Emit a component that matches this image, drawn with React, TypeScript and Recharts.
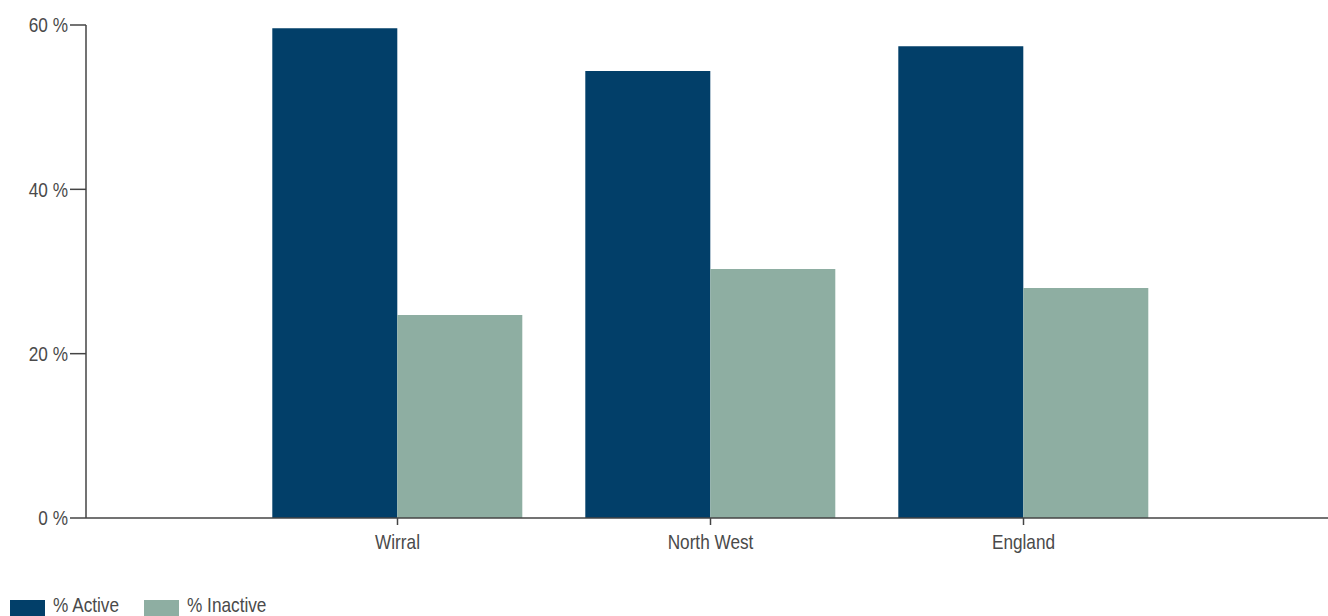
import React from 'react';
import { BarChart, Bar, XAxis, YAxis, Legend } from 'recharts';

const categories = ['Wirral', 'North West', 'England'];
const activeValues = [59.6, 54.4, 57.4];
const inactiveValues = [24.7, 30.3, 28.0];
const yTicks = [0, 20, 40, 60];
const seriesNames = ['% Active', '% Inactive'];
const seriesColors = ['#023f69', '#8eaea2'];

const data = categories.map((name, i) => ({
  name,
  active: activeValues[i],
  inactive: inactiveValues[i],
}));

const FONT = '"Liberation Sans", Arial, sans-serif';
const FONT_SIZE = 21;
const SQUEEZE = 0.82;
const TEXT = '#4a4a4a';
const AXIS = '#444444';

const YTick = (props: any) => {
  const { x, y, payload } = props;
  return (
    <g transform={`translate(${x},${y})`}>
      <text
        transform={`scale(${SQUEEZE},1)`}
        textAnchor="end"
        dy="0.355em"
        fontFamily={FONT}
        fontSize={FONT_SIZE}
        fill={TEXT}
      >
        {`${payload.value} %`}
      </text>
    </g>
  );
};

const XTick = (props: any) => {
  const { x, y, payload } = props;
  return (
    <g transform={`translate(${x},${y})`}>
      <text
        transform={`scale(${SQUEEZE},1)`}
        textAnchor="middle"
        dy="0.71em"
        fontFamily={FONT}
        fontSize={FONT_SIZE}
        fill={TEXT}
      >
        {payload.value}
      </text>
    </g>
  );
};

const legendLeft = [10, 144];

const LegendContent = () => (
  <div style={{ height: 58, position: 'relative', fontFamily: FONT }}>
    {seriesNames.map((n, i) => (
      <React.Fragment key={n}>
        <div
          style={{
            position: 'absolute',
            left: legendLeft[i],
            top: 42,
            width: 35,
            height: 16,
            background: seriesColors[i],
          }}
        />
        <span
          style={{
            position: 'absolute',
            left: legendLeft[i] + 43,
            top: 37,
            fontSize: 21,
            color: TEXT,
            lineHeight: '20px',
            display: 'inline-block',
            transform: `scaleX(${SQUEEZE})`,
            transformOrigin: 'left center',
            whiteSpace: 'nowrap',
          }}
        >
          {n}
        </span>
      </React.Fragment>
    ))}
  </div>
);

export default function App() {
  return (
    <div style={{ position: 'fixed', left: 0, top: 0, width: 1328, height: 616, background: '#fff', overflow: 'hidden' }}>
      <BarChart
        width={1328}
        height={616}
        data={data}
        margin={{ top: 25, right: 0, bottom: 0, left: 0 }}
        barCategoryGap="10%"
        barGap={0}
      >
        <YAxis
          domain={[0, 60]}
          ticks={yTicks}
          width={86}
          tickSize={16}
          tickMargin={2}
          axisLine={{ stroke: AXIS, strokeWidth: 1.5 }}
          tickLine={{ stroke: AXIS, strokeWidth: 1.5 }}
          tick={<YTick />}
          allowDataOverflow
        />
        <XAxis
          dataKey="name"
          padding={{ left: 155, right: 148 }}
          height={40}
          tickSize={7}
          tickMargin={9}
          axisLine={{ stroke: AXIS, strokeWidth: 1.5 }}
          tickLine={{ stroke: AXIS, strokeWidth: 1.5 }}
          tick={<XTick />}
        />
        <Legend verticalAlign="bottom" align="left" height={58} content={() => <LegendContent />} />
        <Bar dataKey="active" name={seriesNames[0]} fill={seriesColors[0]} isAnimationActive={false} />
        <Bar dataKey="inactive" name={seriesNames[1]} fill={seriesColors[1]} isAnimationActive={false} />
      </BarChart>
    </div>
  );
}
